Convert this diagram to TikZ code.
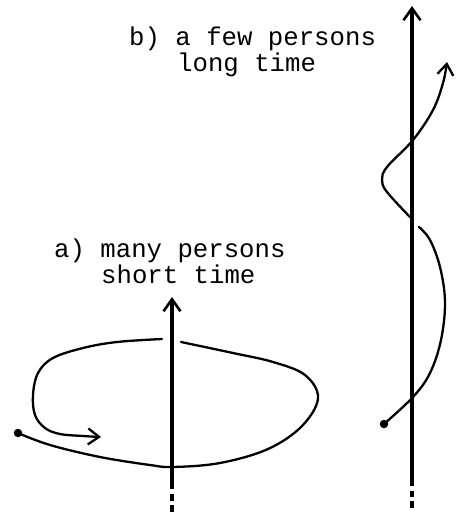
\documentclass[tikz,border=0pt]{standalone}
\usepackage{fontspec}
\setmonofont{Liberation Mono}
\usetikzlibrary{arrows.meta}
\begin{document}
\begin{tikzpicture}[x=1pt,y=-1pt,
  axisline/.style={line width=3.2pt},
  curveline/.style={line width=2.3pt, line cap=round, line join=round},
  barb/.style={-{Straight Barb[length=11pt,width=16pt,line width=2.3pt]}},
  axisbarb/.style={-{Straight Barb[length=12pt,width=17pt,line width=2.6pt]}},
  lbl/.style={anchor=base west, inner sep=0pt, font=\ttfamily\fontsize{25.7}{27}\selectfont},
  dot/.style={circle, fill=black, inner sep=0pt, minimum size=8.5pt}]
\useasboundingbox (0,0) rectangle (463,514);
% labels
\node[lbl] (la1) at (54,257) {a) many persons};
\node[lbl] (la2) at (101,283) {short time};
\node[lbl] (lb1) at (129,45) {b) a few persons};
\node[lbl] (lb2) at (177,71) {long time};
% left axis
\coordinate (lbot) at (172,489);
\coordinate (ltop) at (172,297);
\draw[axisline,axisbarb] (lbot) -- (ltop);
\draw[axisline] (172,494) -- (172,501) (172,505) -- (172,512);
% left loop
\node[dot] (ldot) at (18,433) {};
\draw[curveline] plot[smooth,tension=0.6] coordinates {(18,433) (50,445) (100,457) (150,465) (173,467) (220,463) (268,449) (302,426) (318,398) (305,375) (273,362) (233,353) (181,342)};
\draw[curveline,barb] plot[smooth,tension=0.6] coordinates {(162,339) (117,342) (83,348) (53,358) (38,373) (33,395) (35,415) (45,428) (60,434) (83,436) (101,437)};
% right axis
\coordinate (rbot) at (412,486);
\coordinate (rtop) at (412,6);
\draw[axisline,axisbarb] (rbot) -- (rtop);
\draw[axisline] (412,491) -- (412,497) (412,501) -- (412,508);
% right wave
\node[dot] (rdot) at (384,424) {};
\draw[curveline] plot[smooth,tension=0.6] coordinates {(384,424) (413,397) (430,373) (441,340) (445,302) (440,267) (430,240) (419,227)};
\draw[curveline,barb] plot[smooth,tension=0.6] coordinates {(410,217) (387,192) (382,180) (387,167) (413,140) (433,110) (443,83) (447,62)};
\end{tikzpicture}
\end{document}
